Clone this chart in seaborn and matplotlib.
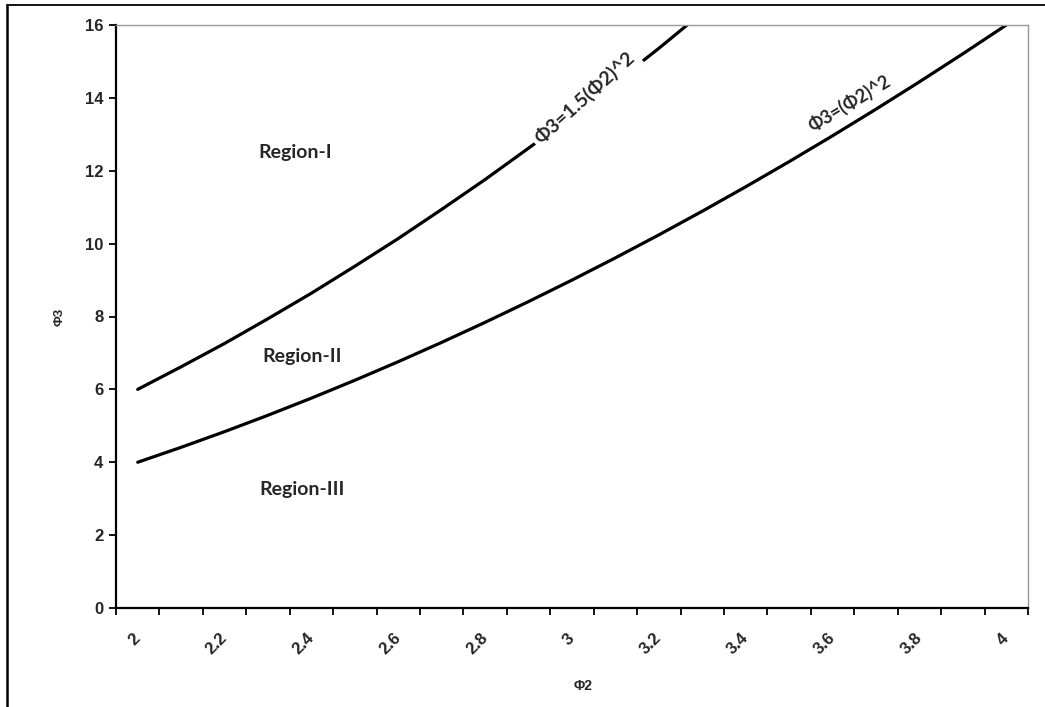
import matplotlib
matplotlib.use("Agg")
import matplotlib.pyplot as plt
from matplotlib.lines import Line2D
import seaborn as sns
import pandas as pd

# Phi2 categories and the two boundary curves
phi2 = [2.0, 2.1, 2.2, 2.3, 2.4, 2.5, 2.6, 2.7, 2.8, 2.9, 3.0,
        3.1, 3.2, 3.3, 3.4, 3.5, 3.6, 3.7, 3.8, 3.9, 4.0]
phi3_lower = [4.0, 4.41, 4.84, 5.29, 5.76, 6.25, 6.76, 7.29, 7.84, 8.41, 9.0,
              9.61, 10.24, 10.89, 11.56, 12.25, 12.96, 13.69, 14.44, 15.21, 16.0]
phi3_upper = [6.0, 6.62, 7.26, 7.94, 8.64, 9.38, 10.14, 10.94, 11.76, 12.62, 13.5,
              14.42, 15.36, 16.34, 17.34, 18.38, 19.44, 20.54, 21.66, 22.82, 24.0]

x_labels = ["2", "2.2", "2.4", "2.6", "2.8", "3", "3.2", "3.4", "3.6", "3.8", "4"]
y_ticks = [0, 2, 4, 6, 8, 10, 12, 14, 16]

sns.set_style("white")
plt.rcParams["font.family"] = ["Liberation Sans", "DejaVu Sans"]

fig = plt.figure(figsize=(10.45, 7.07), dpi=100)
ax = fig.add_axes([116 / 1045, 1 - 608 / 707, (1028 - 116) / 1045, (608 - 25) / 707])

df = pd.DataFrame({"phi2": phi2, "lower": phi3_lower, "upper": phi3_upper})
sns.lineplot(data=df, x="phi2", y="upper", ax=ax, color="black", linewidth=2.3)
sns.lineplot(data=df, x="phi2", y="lower", ax=ax, color="black", linewidth=2.3)

step = 0.1
ax.set_xlim(phi2[0] - step / 2, phi2[-1] + step / 2)
ax.set_ylim(0, 16)

# category boundaries carry the tick marks, category centres carry the labels
boundaries = [phi2[0] - step / 2 + step * i for i in range(len(phi2) + 1)]
ax.set_xticks(boundaries)
ax.set_xticklabels([])
label_pos = [float(s) for s in x_labels]
ax.set_xticks(label_pos, minor=True)
ax.set_xticklabels(x_labels, minor=True, rotation=45, ha="right",
                   rotation_mode="anchor", va="center",
                   fontsize=12, fontweight="bold")
ax.tick_params(axis="x", which="minor", length=0, pad=20)
ax.tick_params(axis="x", which="major", direction="out", length=5, width=1.3,
               color="black", bottom=True)

ax.set_yticks(y_ticks)
ax.set_yticklabels([str(v) for v in y_ticks], fontsize=12, fontweight="bold")
ax.tick_params(axis="y", direction="out", length=5, width=1.3, color="black",
               left=True, pad=4)

for side in ("left", "bottom"):
    ax.spines[side].set_color("black")
    ax.spines[side].set_linewidth(1.6)
for side in ("top", "right"):
    ax.spines[side].set_color("#9a9a9a")
    ax.spines[side].set_linewidth(1.0)

ax.set_xlabel("Φ2", fontsize=10, fontweight="bold")
ax.xaxis.set_label_coords(0.512, -0.122)
ax.set_ylabel("Φ3", fontsize=9.5, fontweight="bold", labelpad=14)

region_font = dict(fontsize=14, fontweight="bold", family=["Lato", "DejaVu Sans"],
                   ha="center", va="center")
ax.text(2.362, 12.49, "Region-I", **region_font)
ax.text(2.378, 6.89, "Region-II", **region_font)
ax.text(2.378, 3.24, "Region-III", **region_font)

curve_font = dict(fontweight="bold", family=["Lato", "DejaVu Sans"],
                  ha="center", va="center")
ax.text(3.03, 14.0, "Φ3=1.5(Φ2)^2", rotation=42, fontsize=14, **curve_font,
        bbox=dict(facecolor="white", edgecolor="none", pad=3))
ax.text(3.64, 13.85, "Φ3=(Φ2)^2", rotation=31, fontsize=13, **curve_font)

# outer frame along the top and left edges
fig.add_artist(Line2D([7 / 1045, 7 / 1045], [0, 1 - 5 / 707], color="black",
                      linewidth=1.8, transform=fig.transFigure))
fig.add_artist(Line2D([7 / 1045, 1], [1 - 5 / 707, 1 - 5 / 707], color="black",
                      linewidth=1.3, transform=fig.transFigure))

fig.savefig("out.png", dpi=100, facecolor="white")
